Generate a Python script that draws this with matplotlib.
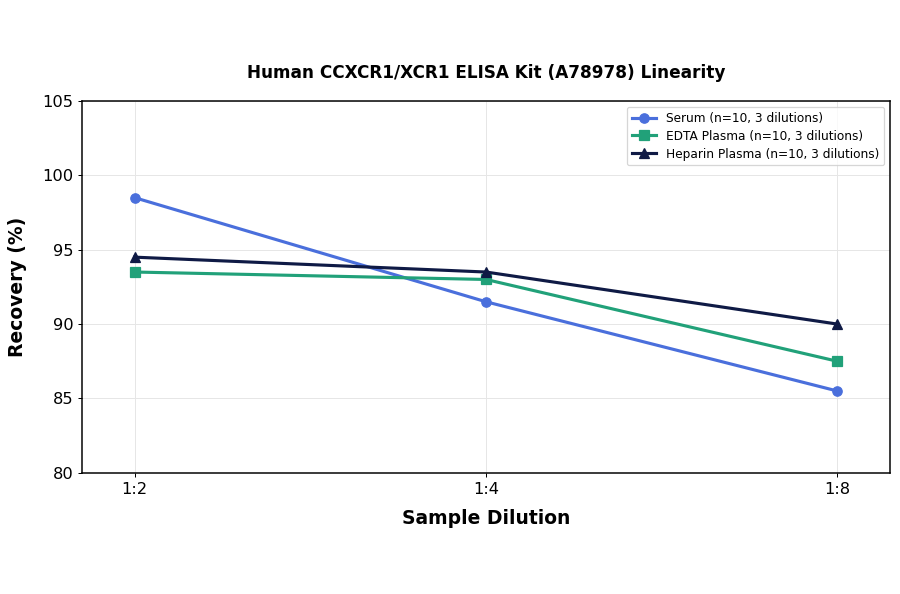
import matplotlib
matplotlib.use('Agg')
import matplotlib.pyplot as plt

dilutions = ['1:2', '1:4', '1:8']
serum = [98.5, 91.5, 85.5]
edta = [93.5, 93.0, 87.5]
heparin = [94.5, 93.5, 90.0]

fig = plt.figure(figsize=(10, 6.6), dpi=90)
ax = fig.add_axes([0.091, 0.204, 0.898, 0.626])

x = range(len(dilutions))
ax.plot(x, serum, marker='o', color='#4a6fdc', lw=2.5, ms=7.5, label='Serum (n=10, 3 dilutions)')
ax.plot(x, edta, marker='s', color='#21a179', lw=2.5, ms=7.5, label='EDTA Plasma (n=10, 3 dilutions)')
ax.plot(x, heparin, marker='^', color='#0f1a45', lw=2.5, ms=7.5, label='Heparin Plasma (n=10, 3 dilutions)')

ax.set_xticks(list(x))
ax.set_xticklabels(dilutions)
ax.set_xlim(-0.15, 2.15)
ax.set_ylim(80, 105)
ax.tick_params(labelsize=13)
for s in ax.spines.values():
    s.set_linewidth(1.2)
ax.grid(True, color='#e6e6e6', lw=0.8)
ax.set_xlabel('Sample Dilution', fontsize=15, fontweight='bold', labelpad=10)
ax.set_ylabel('Recovery (%)', fontsize=15, fontweight='bold', labelpad=12)
ax.set_title('Human CCXCR1/XCR1 ELISA Kit (A78978) Linearity', fontsize=13.5, fontweight='bold', pad=18)
ax.legend(loc='upper right', fontsize=9.7, labelspacing=0.4)

fig.savefig('out.png', dpi=90)
